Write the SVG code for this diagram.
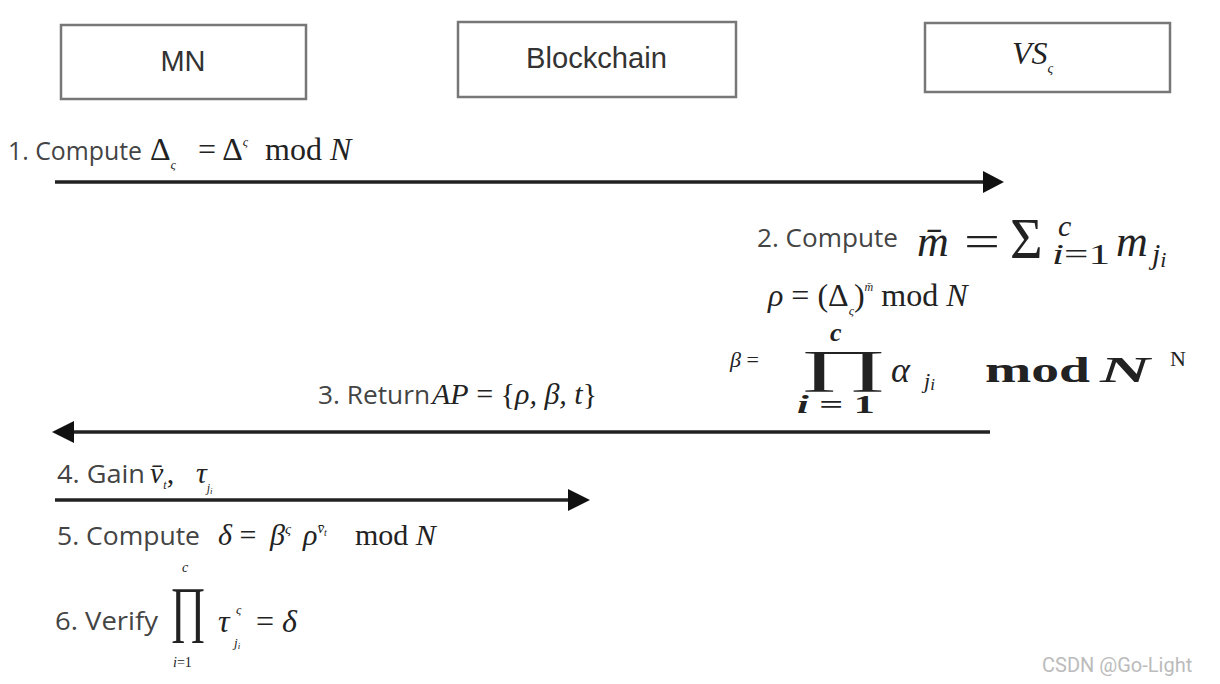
<svg xmlns="http://www.w3.org/2000/svg" width="1220" height="684" viewBox="0 0 1220 684">
<defs>
<style>
.box{fill:#fff;stroke:#777;stroke-width:2.5}
.lbl{font-family:"Liberation Sans",Arial,sans-serif;fill:#333;font-size:29px}
.t{font-family:"Open Sans","Liberation Sans",sans-serif;fill:#444;font-size:26px}
.m{font-family:"Liberation Serif","Times New Roman",serif;fill:#222}
.i{font-style:italic}
.conn{stroke:#222;stroke-width:3.5;fill:none}
</style>
</defs>
<rect width="1220" height="684" fill="#fff"/>
<g id="node-mn"><rect class="box" x="61" y="25" width="245" height="74"/><text class="lbl" x="183" y="71" text-anchor="middle">MN</text></g>
<g id="node-blockchain"><rect class="box" x="458" y="22" width="278" height="75"/><text class="lbl" x="526" y="68" textLength="141" lengthAdjust="spacingAndGlyphs">Blockchain</text></g>
<g id="node-vs"><rect class="box" x="925" y="23" width="245" height="69"/><text class="m i" x="1012" y="64" font-size="32" fill="#333">VS<tspan font-size="14" dy="9">ς</tspan></text></g>
<g id="connectors">
<line class="conn" x1="55" y1="182" x2="985" y2="182"/>
<path d="M983,171 L1004,182 L983,193 z" fill="#111"/>
<line class="conn" x1="990" y1="432" x2="72" y2="432"/>
<path d="M74,421 L52,432 L74,443 z" fill="#111"/>
<line class="conn" x1="55" y1="500" x2="570" y2="500"/>
<path d="M568,489 L590,500 L568,511 z" fill="#111"/>
</g>
<g id="texts">
<!-- step 1 -->
<text class="t" x="8" y="160" textLength="134" lengthAdjust="spacingAndGlyphs">1. Compute</text>
<text class="m" x="150" y="160" font-size="32">Δ<tspan class="i" font-size="13" dy="9">ς</tspan></text>
<text class="m" x="198" y="160" font-size="32">= Δ<tspan class="i" font-size="13" dy="-14">ς</tspan></text>
<text class="m" x="265" y="160" font-size="32">mod <tspan class="i">N</tspan></text>
<!-- step 2 -->
<text class="t" x="757" y="247" textLength="141" lengthAdjust="spacingAndGlyphs">2. Compute</text>
<text class="m i" x="917" y="256" font-size="44">m̄</text>
<text class="m" x="964" y="256" font-size="44" textLength="36" lengthAdjust="spacingAndGlyphs">=</text>
<text class="m" x="1010" y="258" font-size="56">Σ</text>
<text class="m i" x="1058" y="236" font-size="30">c</text>
<text class="m" x="1052" y="264" font-size="30" textLength="58" lengthAdjust="spacingAndGlyphs"><tspan class="i">i</tspan>=1</text>
<text class="m i" x="1116" y="256" font-size="44">m</text>
<text class="m i" x="1152" y="264" font-size="30">j<tspan font-size="22" dy="3">i</tspan></text>
<text class="m" x="768" y="306" font-size="32"><tspan class="i">ρ</tspan> = (Δ<tspan class="i" font-size="13" dy="9">ς</tspan><tspan dy="-9">)</tspan><tspan class="i" font-size="12" dy="-15">m̄</tspan><tspan dy="15"> mod </tspan><tspan class="i">N</tspan></text>
<text class="m" x="730" y="367" font-size="22" fill="#555"><tspan class="i">β</tspan> =</text>
<text class="m i" x="830" y="341" font-size="26" font-weight="bold">c</text>
<text class="m" transform="translate(799,382) scale(2.3,1)" font-size="46">∏</text>
<text class="m" x="797" y="413" font-size="26" font-weight="bold" textLength="78" lengthAdjust="spacingAndGlyphs"><tspan class="i">i</tspan> = 1</text>
<text class="m i" x="891" y="382" font-size="36">α</text>
<text class="m i" x="924" y="388" font-size="22">j<tspan font-size="17" dy="2">i</tspan></text>
<text class="m" x="985" y="382" font-size="36" font-weight="bold" textLength="105" lengthAdjust="spacingAndGlyphs">mod</text>
<text class="m i" x="1100" y="382" font-size="36" font-weight="bold" textLength="50" lengthAdjust="spacingAndGlyphs">N</text>
<text class="m" x="1170" y="366" font-size="22">N</text>
<!-- step 3 -->
<text class="t" x="318" y="404" textLength="112" lengthAdjust="spacingAndGlyphs">3. Return</text>
<text class="m" x="432" y="404" font-size="30"><tspan class="i">AP</tspan> = {<tspan class="i">ρ, β, t</tspan>}</text>
<!-- step 4 -->
<text class="t" x="57" y="483" textLength="88" lengthAdjust="spacingAndGlyphs">4. Gain</text>
<text class="m i" x="150" y="483" font-size="30">v̄<tspan font-size="12" dy="6">t</tspan><tspan font-style="normal" dy="-6">,</tspan></text>
<text class="m i" x="196" y="483" font-size="30">τ<tspan font-size="12" dy="9">j</tspan><tspan font-size="9" dy="2">i</tspan></text>
<!-- step 5 -->
<text class="t" x="57" y="545" textLength="143" lengthAdjust="spacingAndGlyphs">5. Compute</text>
<text class="m" x="218" y="545" font-size="30"><tspan class="i">δ</tspan> =</text>
<text class="m i" x="270" y="545" font-size="30">β<tspan font-size="15" dy="-11">ς</tspan></text>
<text class="m i" x="303" y="545" font-size="30">ρ<tspan font-size="15" dy="-12">v̄</tspan><tspan font-size="10" dy="3">t</tspan></text>
<text class="m" x="355" y="545" font-size="30">mod <tspan class="i">N</tspan></text>
<!-- step 6 -->
<text class="t" x="55" y="630" textLength="103" lengthAdjust="spacingAndGlyphs">6. Verify</text>
<text class="m i" x="182" y="572" font-size="14">c</text>
<text class="m" transform="translate(170,630) scale(0.7,1)" font-size="62">∏</text>
<text class="m" x="173" y="667" font-size="14"><tspan class="i">i</tspan>=1</text>
<text class="m i" x="218" y="632" font-size="32">τ</text>
<text class="m i" x="236" y="614" font-size="13">ς</text>
<text class="m i" x="234" y="647" font-size="13">j<tspan font-size="9" dy="2">i</tspan></text>
<text class="m" x="256" y="632" font-size="32">= <tspan class="i">δ</tspan></text>
<text x="1042" y="672" font-family="Roboto,'Liberation Sans',sans-serif" font-size="20" fill="#bbb">CSDN @Go-Light</text>
</g>
</svg>
